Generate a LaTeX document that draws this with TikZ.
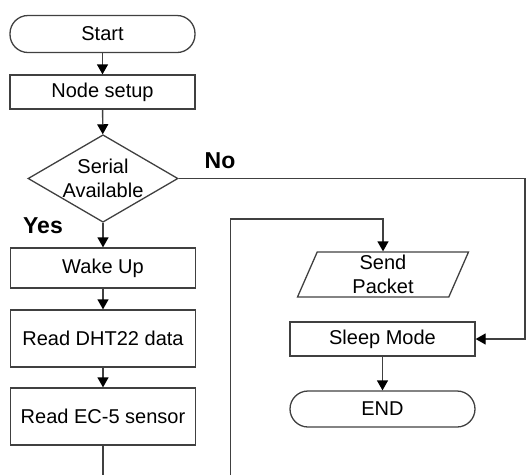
\documentclass[tikz,border=0pt]{standalone}
\usepackage{fontspec}
\setmainfont{Liberation Sans}
\usepackage{tikz}
\usetikzlibrary{arrows.meta}
\usetikzlibrary{shapes.geometric}
\usetikzlibrary{positioning}

\tikzset{
  base/.style={draw=black!75, line width=1.3pt, font=\fontsize{20}{24}\selectfont, inner sep=0pt, align=center},
  term/.style={base, rectangle, rounded corners=18pt, minimum width=185pt, minimum height=37pt},
  proc/.style={base, rectangle, minimum width=185pt},
  decision/.style={base, diamond, minimum width=150pt, minimum height=83pt, inner sep=-8pt},
  io/.style={base, trapezium, trapezium left angle=63, trapezium right angle=117, trapezium stretches body, minimum width=171pt, minimum height=45pt},
  conn/.style={draw=black!75, line width=1.3pt},
  arr/.style={conn, -{Triangle[length=10pt, width=11pt, color=black]}},
  lbl/.style={font=\fontsize{23}{26}\selectfont\bfseries, inner sep=0pt}
}

\begin{document}
\begin{tikzpicture}[x=1pt, y=-1pt]
            \useasboundingbox (0,0) rectangle (528,475);
            \draw (102.5,34) node[term]                      (start) {Start};
            \draw (102.5,92) node[proc, minimum height=34pt]  (setup) {Node setup};
            \draw (103,178.5) node[decision]                 (serial) {Serial\\Available};
            \draw (103,268) node[proc, minimum height=40pt]  (wake) {Wake Up};
            \draw (103,338.5) node[proc, minimum height=57pt] (dht) {Read DHT22 data};
            \draw (103,416.5) node[proc, minimum height=57pt] (ec) {Read EC-5 sensor};
            \draw (383,274.5) node[io]                       (send) {Send\\Packet};
            \draw (382.5,339) node[proc, minimum height=34pt] (sleep) {Sleep Mode};
            \draw (382.5,409) node[term, minimum height=36pt] (end) {END};
            \draw (43,226) node[lbl]                         (yes) {Yes};
            \draw (220,161) node[lbl]                        (no) {No};
            \coordinate (ecout) at (103,475);
            \coordinate (loopin) at (230.5,475);
            \coordinate (noturn) at (525,178.5);
            \coordinate (loopturn) at (230.5,219);
            \draw[arr] (start) -- (setup);
            \draw[arr] (setup) -- (serial);
            \draw[arr] (serial) -- (wake);
            \draw[arr] (wake) -- (dht);
            \draw[arr] (dht) -- (ec);
            \draw[conn] (ec) -- (ecout);
            \draw[arr] (serial.east) -- (noturn) |- (sleep.east);
            \draw[arr] (loopin) -- (loopturn) -| (send.north);
            \draw[arr] (sleep) -- (end);
\end{tikzpicture}
\end{document}
